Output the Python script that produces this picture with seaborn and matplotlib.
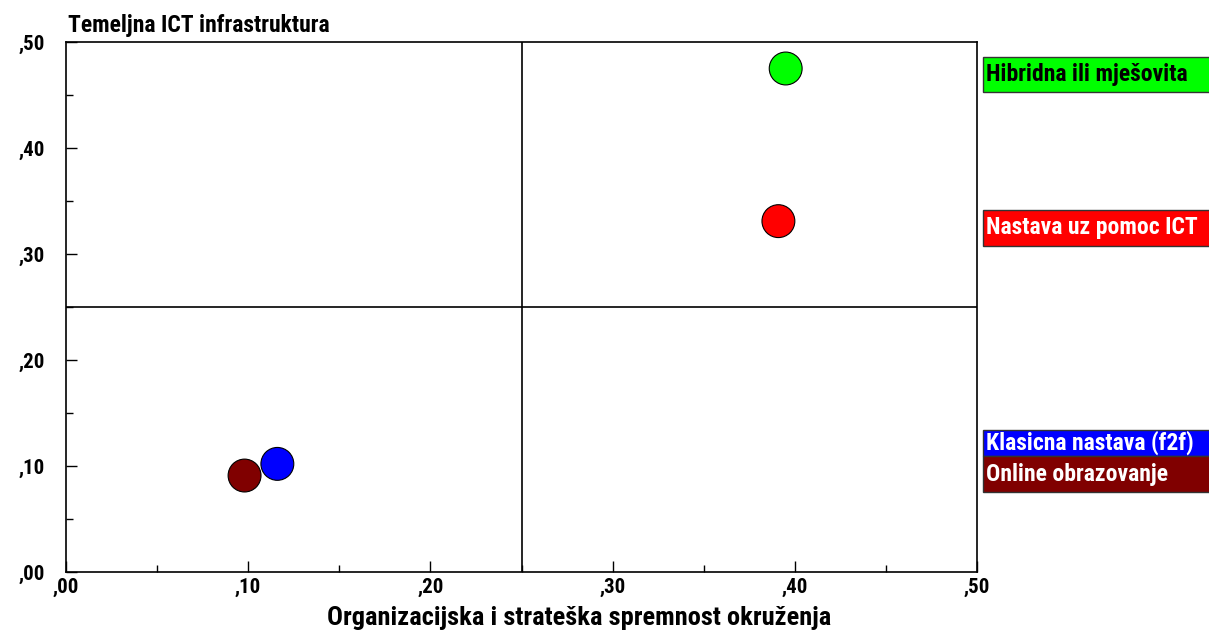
import matplotlib
matplotlib.use('Agg')
import matplotlib.pyplot as plt
import seaborn as sns
import pandas as pd
from matplotlib.patches import Rectangle
from matplotlib.ticker import MultipleLocator, FuncFormatter
from matplotlib import font_manager

# Data
labels = ['Hibridna ili mješovita', 'Nastava uz pomoc ICT', 'Klasicna nastava (f2f)', 'Online obrazovanje']
org_ready = [0.395, 0.391, 0.116, 0.098]
ict_infra = [0.475, 0.331, 0.102, 0.091]
colors = ['#00ff00', '#ff0000', '#0000ff', '#800000']
text_colors = ['black', 'white', 'white', 'white']

df = pd.DataFrame({'x': org_ready, 'y': ict_infra, 'label': labels})

sns.set_style('white')
names = {f.name for f in font_manager.fontManager.ttflist}
narrow = [n for n in ['Liberation Sans Narrow', 'DejaVu Sans Condensed', 'Roboto Condensed'] if n in names]
plt.rcParams['font.family'] = narrow + ['DejaVu Sans']
plt.rcParams['font.stretch'] = 'condensed'
plt.rcParams['text.color'] = 'black'

fig = plt.figure(figsize=(12.09, 6.31), dpi=100)
ax = fig.add_axes([66 / 1209, 1 - 572 / 631, (977 - 66) / 1209, (572 - 42) / 631])

sns.scatterplot(data=df, x='x', y='y', hue='label', palette=colors, s=560,
                edgecolor='black', linewidth=0.8, legend=False, ax=ax, zorder=3)

# quadrant lines
ax.axvline(0.25, color='black', lw=1.2, zorder=1)
ax.axhline(0.25, color='black', lw=1.2, zorder=1)

ax.set_xlim(0, 0.5)
ax.set_ylim(0, 0.5)
ax.xaxis.set_major_locator(MultipleLocator(0.1))
ax.xaxis.set_minor_locator(MultipleLocator(0.05))
ax.yaxis.set_major_locator(MultipleLocator(0.1))
ax.yaxis.set_minor_locator(MultipleLocator(0.05))
fmt = FuncFormatter(lambda v, p: ',%02d' % round(v * 100))
ax.xaxis.set_major_formatter(fmt)
ax.yaxis.set_major_formatter(fmt)
ax.tick_params(which='both', bottom=True, left=True, top=False, right=False)
ax.tick_params(which='major', direction='in', length=8, width=1, labelsize=15, colors='black')
ax.tick_params(which='minor', direction='in', length=5, width=1, colors='black')
ax.tick_params(axis='y', pad=15)
ax.tick_params(axis='x', pad=4)
for lab in ax.get_xticklabels() + ax.get_yticklabels():
    lab.set_fontweight('bold')
for sp in ax.spines.values():
    sp.set_visible(True)
    sp.set_color('black')
    sp.set_linewidth(1.2)

ax.set_xlabel('Organizacijska i strateška spremnost okruženja', fontsize=19, fontweight='bold',
              color='black')
ax.xaxis.set_label_coords(0.563, -0.064)
ax.set_ylabel('')
fig.text(68 / 1209, 1 - 32 / 631, 'Temeljna ICT infrastruktura', fontsize=17, fontweight='bold',
         ha='left', va='baseline')

# legend boxes at right, clipped by figure edge
boxes = [(57, 92), (210, 246), (430, 456), (456, 492)]
for (top, bot), lab, c, tc in zip(boxes, labels, colors, text_colors):
    fig.patches.append(Rectangle((983 / 1209, 1 - bot / 631), 0.3, (bot - top) / 631,
                                 transform=fig.transFigure, facecolor=c, edgecolor='#333333', lw=1))
    fig.text(986 / 1209, 1 - (top + bot) / 2 / 631, lab, color=tc, fontsize=17, fontweight='bold',
             ha='left', va='center')

fig.savefig('out.png', dpi=100)
